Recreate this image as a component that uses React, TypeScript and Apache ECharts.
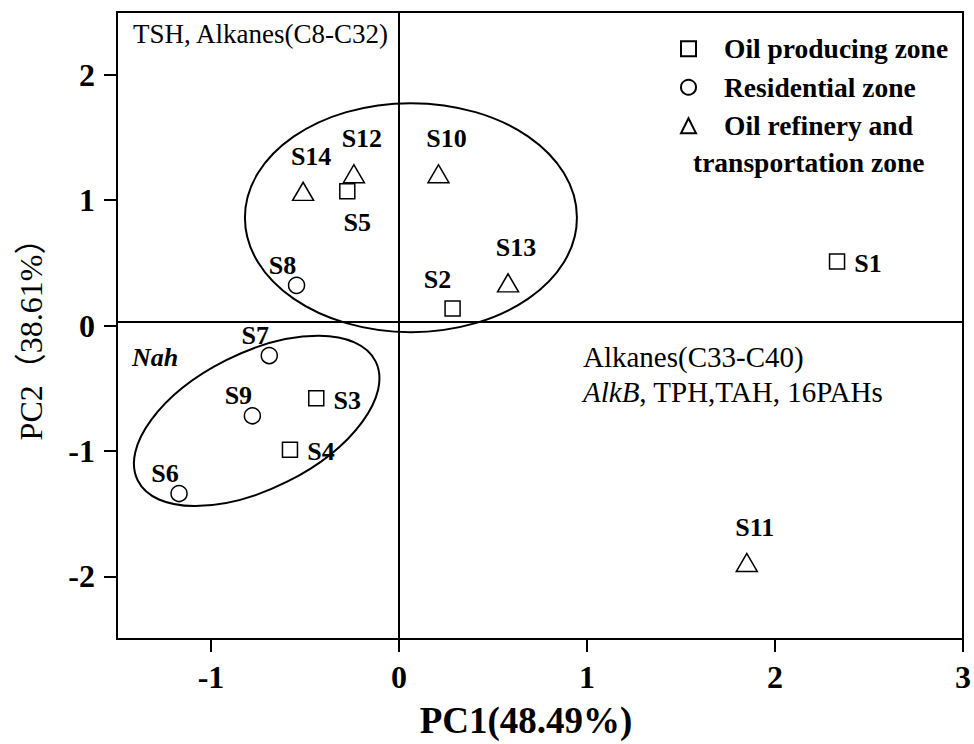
import React, { useEffect, useRef } from 'react';
import * as echarts from 'echarts';

// ---- data ----
const X_TICKS = [-1, 0, 1, 2, 3];
const Y_TICKS = [-2, -1, 0, 1, 2];

const SERIES_NAMES = ['Oil producing zone', 'Residential zone', 'Oil refinery and transportation zone'];

const oilProducing = [
  { name: 'S1', value: [2.33, 0.51] },
  { name: 'S2', value: [0.285, 0.135] },
  { name: 'S3', value: [-0.44, -0.58] },
  { name: 'S4', value: [-0.58, -0.99] },
  { name: 'S5', value: [-0.275, 1.07] },
];
const residential = [
  { name: 'S6', value: [-1.17, -1.34] },
  { name: 'S7', value: [-0.69, -0.24] },
  { name: 'S8', value: [-0.545, 0.32] },
  { name: 'S9', value: [-0.78, -0.72] },
];
const refinery = [
  { name: 'S10', value: [0.21, 1.21] },
  { name: 'S11', value: [1.85, -1.89] },
  { name: 'S12', value: [-0.24, 1.21] },
  { name: 'S13', value: [0.58, 0.34] },
  { name: 'S14', value: [-0.51, 1.07] },
];

// reference lines and grouping ellipses (centres in data units)
const ZERO_X = 0;
const ZERO_Y = 0.03;
const ELLIPSE_UPPER_CENTER = [0.0635, 0.86];
const ELLIPSE_LOWER_CENTER = [-0.757, -0.761];

// ---- styles ----
const FONT = "'Liberation Serif', 'Times New Roman', 'Noto Sans CJK SC', serif";
const LABEL_OFFSETS: Record<string, [number, number]> = {
  top: [8, -35],
  bottom: [10, 31],
  right: [31, 2],
  upperLeft: [-14, -20],
  upperLeftHigh: [-15, -29],
};
const LABEL_PLACE: Record<string, string> = {
  S1: 'right', S2: 'upperLeftHigh', S3: 'right', S4: 'right', S5: 'bottom',
  S6: 'upperLeft', S7: 'upperLeft', S8: 'upperLeft', S9: 'upperLeft',
  S10: 'top', S11: 'top', S12: 'top', S13: 'top', S14: 'top',
};
const ELLIPSE_UPPER_STYLE = { rx: 166, ry: 114.5, rotationDeg: 0 };
const ELLIPSE_LOWER_STYLE = { rx: 133, ry: 68, rotationDeg: 26.6 };

function makeSeries(name: string, data: { name: string; value: number[] }[], symbol: string, size: number | number[]) {
  return {
    type: 'scatter',
    name,
    symbol,
    symbolSize: size,
    z: 3,
    itemStyle: { color: '#ffffff', borderColor: '#000000', borderWidth: 1.5, opacity: 1 },
    emphasis: { disabled: true },
    label: {
      show: true,
      formatter: '{b}',
      position: 'inside',
      color: '#000000',
      textBorderWidth: 0,
      fontFamily: FONT,
      fontWeight: 'bold',
      fontSize: 26,
    },
    data: data.map((d) => ({
      name: d.name,
      value: d.value,
      label: { offset: LABEL_OFFSETS[LABEL_PLACE[d.name]] },
    })),
  };
}

export default function App() {
  const ref = useRef<HTMLDivElement>(null);

  useEffect(() => {
    if (!ref.current) return;
    const chart = echarts.init(ref.current, undefined, { renderer: 'svg' });

    const series: any[] = [
      makeSeries(SERIES_NAMES[0], oilProducing, 'rect', 15),
      makeSeries(SERIES_NAMES[1], residential, 'circle', 16),
      makeSeries(SERIES_NAMES[2], refinery, 'triangle', [21, 18]),
    ];
    series[0].markLine = {
      silent: true,
      symbol: 'none',
      label: { show: false },
      lineStyle: { color: '#000', width: 2, type: 'solid' },
      data: [{ xAxis: ZERO_X }, { yAxis: ZERO_Y }],
      z: 1,
    };

    chart.setOption({
      animation: false,
      backgroundColor: '#ffffff',
      grid: {
        left: 117,
        top: 12,
        right: 9,
        bottom: 101,
        show: true,
        borderColor: '#000',
        borderWidth: 2,
        backgroundColor: 'transparent',
      },
      legend: {
        orient: 'vertical',
        left: 680,
        top: 35,
        padding: 0,
        itemWidth: 15,
        itemHeight: 15,
        itemGap: 11,
        symbolKeepAspect: true,
        selectedMode: false,
        data: SERIES_NAMES,
        formatter: (n: string) => (n === SERIES_NAMES[2] ? 'Oil refinery and' : n),
        textStyle: {
          fontFamily: FONT, fontSize: 27.5, fontWeight: 'bold', color: '#000', lineHeight: 26,
          padding: [0, 0, 0, 23],
        },
      },
      xAxis: {
        type: 'value',
        min: -1.5,
        max: 3,
        axisLine: { show: true, onZero: false, lineStyle: { color: '#000', width: 2 } },
        axisTick: { show: true, customValues: X_TICKS, length: 13, lineStyle: { color: '#000', width: 2 } },
        axisLabel: { customValues: X_TICKS, fontFamily: FONT, fontSize: 32, fontWeight: 'bold', color: '#000', margin: 22 },
        splitLine: { show: false },
        name: 'PC1(48.49%)',
        nameLocation: 'middle',
        nameGap: 63,
        nameTextStyle: { fontFamily: FONT, fontSize: 37, fontWeight: 'bold', color: '#000', padding: [0, 28, 0, 0] },
      },
      yAxis: {
        type: 'value',
        min: -2.5,
        max: 2.5,
        axisLine: { show: true, onZero: false, lineStyle: { color: '#000', width: 2 } },
        axisTick: { show: true, customValues: Y_TICKS, length: 13, lineStyle: { color: '#000', width: 2 } },
        axisLabel: { customValues: Y_TICKS, fontFamily: FONT, fontSize: 32, fontWeight: 'bold', color: '#000', margin: 22 },
        splitLine: { show: false },
        name: 'PC2（38.61%）',
        nameLocation: 'middle',
        nameGap: 70,
        nameTextStyle: { fontFamily: FONT, fontSize: 32, color: '#000', padding: [0, 12, 0, 0] },
      },
      series,
    });

    const cu = chart.convertToPixel({ gridIndex: 0 }, ELLIPSE_UPPER_CENTER) as number[];
    const cl = chart.convertToPixel({ gridIndex: 0 }, ELLIPSE_LOWER_CENTER) as number[];
    const textBase = { fill: '#000', fontFamily: FONT, textAlign: 'left', textVerticalAlign: 'middle', align: 'left', verticalAlign: 'middle' };

    chart.setOption({
      graphic: [
        {
          type: 'ellipse', id: 'eU', silent: true, z: 1,
          x: cu[0], y: cu[1], rotation: (ELLIPSE_UPPER_STYLE.rotationDeg * Math.PI) / 180,
          shape: { cx: 0, cy: 0, rx: ELLIPSE_UPPER_STYLE.rx, ry: ELLIPSE_UPPER_STYLE.ry },
          style: { fill: 'none', stroke: '#000', lineWidth: 2 },
        },
        {
          type: 'ellipse', id: 'eL', silent: true, z: 1,
          x: cl[0], y: cl[1], rotation: (ELLIPSE_LOWER_STYLE.rotationDeg * Math.PI) / 180,
          shape: { cx: 0, cy: 0, rx: ELLIPSE_LOWER_STYLE.rx, ry: ELLIPSE_LOWER_STYLE.ry },
          style: { fill: 'none', stroke: '#000', lineWidth: 2 },
        },
        {
          type: 'text', id: 't1', silent: true, z: 5, x: 133, y: 34,
          style: { ...textBase, text: 'TSH, Alkanes(C8-C32)', fontSize: 27 },
        },
        {
          type: 'text', id: 't2', silent: true, z: 5, x: 132, y: 357,
          style: { ...textBase, text: 'Nah', fontSize: 26, fontStyle: 'italic', fontWeight: 'bold' },
        },
        {
          type: 'text', id: 't3', silent: true, z: 5, x: 583, y: 357,
          style: { ...textBase, text: 'Alkanes(C33-C40)', fontSize: 29 },
        },
        {
          type: 'text', id: 't4', silent: true, z: 5, x: 583, y: 392,
          style: {
            ...textBase,
            text: '{i|AlkB}, TPH,TAH, 16PAHs',
            fontSize: 29,
            rich: { i: { fontStyle: 'italic', fontFamily: FONT, fontSize: 29, fill: '#000' } },
          },
        },
        {
          type: 'text', id: 't5', silent: true, z: 5, x: 693, y: 162,
          style: { ...textBase, text: 'transportation zone', fontSize: 27.5, fontWeight: 'bold' },
        },
      ],
    });

    return () => chart.dispose();
  }, []);

  return <div ref={ref} style={{ position: 'absolute', left: 0, top: 0, width: 974, height: 744 }} />;
}
